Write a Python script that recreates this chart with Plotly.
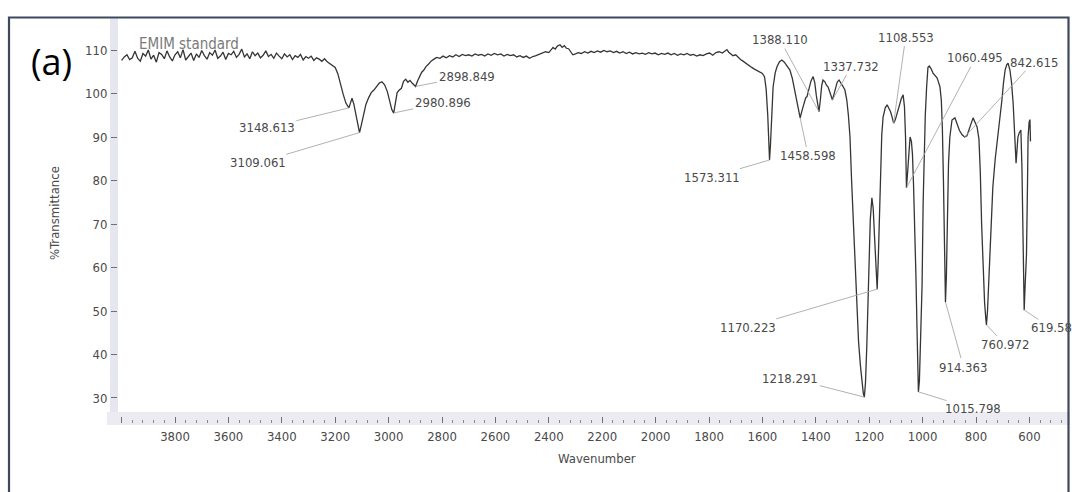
import numpy as np
import plotly.graph_objects as go

# ---------------- data ----------------
wavenumber = [
    4000, 3990, 3980, 3970, 3960, 3950, 3940, 3930, 3920, 3910, 3900, 3890, 3880, 3870, 3860, 3850,
    3840, 3830, 3820, 3810, 3800, 3790, 3780, 3770, 3760, 3750, 3740, 3730, 3720, 3710, 3700, 3690,
    3680, 3670, 3660, 3650, 3640, 3630, 3620, 3610, 3600, 3590, 3580, 3570, 3560, 3550, 3540, 3530,
    3520, 3510, 3500, 3490, 3480, 3470, 3460, 3450, 3440, 3430, 3420, 3410, 3400, 3390, 3380, 3370,
    3360, 3350, 3340, 3330, 3320, 3310, 3300, 3290, 3280, 3270, 3260, 3250, 3240, 3230, 3220, 3210,
    3200, 3190, 3180, 3170, 3160, 3152, 3148.6, 3143, 3137, 3130, 3122, 3115, 3109, 3102, 3095, 3085,
    3075, 3065, 3055, 3045, 3035, 3025, 3015, 3005, 2995, 2988, 2981, 2975, 2968, 2960, 2952, 2944,
    2936, 2928, 2920, 2912, 2905, 2899, 2892, 2884, 2876, 2868, 2860, 2850, 2840, 2830, 2820, 2808,
    2796, 2784, 2772, 2760, 2748, 2736, 2724, 2712, 2700, 2688, 2676, 2664, 2652, 2640, 2628, 2616,
    2604, 2592, 2580, 2568, 2556, 2544, 2532, 2520, 2508, 2496, 2484, 2472, 2460, 2448, 2436, 2424,
    2412, 2400, 2392, 2384, 2376, 2368, 2358, 2350, 2342, 2334, 2326, 2318, 2310, 2300, 2290, 2278,
    2266, 2254, 2242, 2230, 2218, 2206, 2194, 2182, 2170, 2158, 2146, 2134, 2122, 2110, 2098, 2086,
    2074, 2062, 2050, 2038, 2026, 2014, 2002, 1990, 1978, 1966, 1954, 1942, 1930, 1918, 1906, 1894,
    1882, 1870, 1858, 1846, 1834, 1822, 1810, 1798, 1786, 1774, 1762, 1750, 1740, 1733, 1726, 1718,
    1710, 1700, 1690, 1682, 1674, 1666, 1658, 1650, 1640, 1630, 1620, 1610, 1600, 1592, 1586, 1580,
    1576, 1573.3, 1570, 1566, 1560, 1552, 1545, 1536, 1527, 1518, 1508, 1497, 1488, 1478, 1470, 1463,
    1458.6, 1452, 1445, 1438, 1433, 1425, 1418, 1410, 1404, 1398, 1392, 1388.1, 1383, 1378, 1373, 1366,
    1360, 1354, 1348, 1342, 1337.7, 1332, 1326, 1320, 1313, 1306, 1298, 1291, 1284, 1278, 1272, 1266,
    1260, 1253, 1246, 1240, 1233, 1227, 1222, 1218.3, 1214, 1209, 1205, 1200, 1196, 1190, 1185, 1180,
    1175, 1170.2, 1166, 1162, 1158, 1153, 1148, 1140, 1133, 1126, 1120, 1114, 1108.6, 1102, 1095, 1088,
    1080, 1073, 1068, 1064, 1060.5, 1056, 1051, 1047, 1042, 1038, 1034, 1029, 1025, 1021, 1018, 1015.8,
    1012, 1007, 1002, 998, 994, 990, 985, 980, 975, 969, 961, 953, 946, 940, 935, 930,
    926, 922, 919, 916.5, 914.4, 911, 907, 903, 898, 890, 879, 870, 862, 852, 842.6, 834,
    825, 818, 811, 803, 796, 789, 784, 779, 774, 768, 763, 761, 757, 752, 748, 743,
    737, 728, 718, 710, 703, 697, 691, 685, 680, 673, 667, 661, 655, 650, 646, 643,
    638, 632, 628, 624, 621.5, 619.6, 616, 611, 607, 605, 601, 598, 596,
]

transmittance = [
    107.6, 108.4, 108.9, 107.8, 108.2, 109.7, 108.1, 107.4, 109.2, 108.6, 110.0, 107.9, 108.8, 107.2, 109.4, 109.0,
    108.0, 109.8, 108.4, 107.5, 108.9, 109.6, 108.2, 110.1, 107.7, 108.5, 109.3, 107.6, 109.1, 108.3, 109.9, 108.7,
    107.9, 109.4, 108.8, 110.0, 108.1, 108.6, 109.5, 107.8, 109.2, 108.9, 109.7, 108.3, 109.0, 110.2, 108.4, 109.1,
    108.0, 109.6, 108.7, 109.3, 108.2, 108.8, 109.8, 108.5, 109.0, 108.1, 109.3, 108.6, 108.0, 109.1, 108.4, 108.9,
    107.8, 108.7, 108.3, 109.0, 107.7, 108.5, 108.1, 108.6, 107.6, 108.2, 107.9, 107.4, 108.0, 107.3, 106.9, 106.6,
    106.0, 104.5, 102.0, 99.8, 97.8, 97.0, 96.7, 97.8, 98.9, 97.5, 95.0, 92.3, 91.0, 92.8, 95.0, 97.5,
    99.0, 100.2, 100.8, 101.6, 102.4, 102.7, 102.0, 100.5, 98.0, 96.3, 95.5, 97.5, 100.2, 100.8, 101.2, 102.8,
    103.3, 102.6, 103.0, 102.4, 101.9, 101.6, 102.8, 104.0, 104.9, 105.4, 106.2, 106.8, 107.5, 107.9, 108.3, 108.1,
    108.6, 108.2, 108.7, 108.4, 108.9, 108.5, 109.0, 108.7, 108.9, 108.6, 109.1, 108.8, 109.0, 108.6, 109.1, 108.8,
    109.2, 108.9, 109.1, 108.6, 109.0, 108.7, 108.9, 108.4, 108.7, 108.3, 108.6, 108.1, 108.5, 108.7, 109.0, 109.3,
    109.6, 109.4, 109.9, 110.6, 110.2, 110.9, 111.2, 110.6, 111.0, 110.4, 110.3, 109.6, 108.9, 109.1, 109.4, 109.2,
    109.6, 109.3, 109.7, 109.4, 109.8, 109.5, 109.9, 109.6, 109.8, 109.4, 109.7, 109.3, 109.6, 109.2, 109.5, 109.1,
    109.4, 109.1, 109.3, 109.0, 109.4, 109.1, 109.3, 108.9, 109.2, 109.0, 109.3, 108.9, 109.2, 108.8, 109.1, 108.9,
    109.2, 108.8, 109.0, 108.6, 108.9, 108.7, 109.1, 109.3, 108.8, 109.4, 109.6, 109.3, 109.9, 110.1, 109.5, 109.0,
    108.7, 108.9, 108.2, 107.8, 107.5, 107.1, 106.7, 106.4, 106.0, 105.6, 105.3, 104.9, 104.6, 103.8, 101.0, 95.0,
    88.0, 84.7, 88.0, 95.0, 101.5, 104.8, 106.2, 107.3, 107.7, 107.2, 106.3, 105.4, 103.5, 100.5, 97.5, 95.2,
    94.4, 96.0, 97.8, 99.0, 99.3, 101.0, 102.9, 103.9, 102.5, 99.5, 96.8, 95.8, 98.5, 101.8, 103.1, 102.7,
    101.9, 101.5, 100.4, 99.2, 98.5, 99.8, 101.5, 102.6, 103.1, 102.5, 101.6, 100.8, 98.5, 95.0, 90.0, 80.0,
    71.0, 60.0, 50.0, 43.0, 37.5, 33.5, 31.0, 30.2, 33.5, 42.0, 52.5, 63.0, 71.0, 76.0, 73.5, 67.0,
    61.0, 55.0, 62.0, 72.0, 83.0, 90.5, 94.6, 96.7, 97.4, 96.7, 95.8, 94.5, 93.2, 94.0, 95.6, 97.0,
    98.8, 99.7, 97.0, 90.0, 78.3, 82.0, 87.7, 90.0, 89.0, 86.0, 79.0, 70.0, 58.0, 46.0, 35.0, 31.4,
    34.0, 44.0, 56.0, 75.0, 88.0, 95.0, 101.5, 106.0, 106.3, 105.8, 104.7, 104.2, 103.6, 102.5, 101.5, 98.5,
    92.0, 80.0, 68.0, 57.0, 52.0, 58.0, 70.0, 84.0, 90.0, 93.9, 94.4, 93.0, 91.5, 90.5, 90.0, 90.3,
    92.0, 93.5, 94.4, 93.3, 92.3, 89.5, 82.0, 70.0, 60.0, 52.0, 48.0, 46.8, 50.0, 57.0, 63.0, 70.0,
    78.5, 85.0, 90.0, 94.5, 98.5, 102.5, 105.4, 106.6, 107.0, 105.4, 102.5, 97.8, 90.0, 84.0, 87.5, 90.0,
    91.0, 91.6, 83.0, 71.0, 58.0, 50.2, 56.0, 63.0, 80.0, 90.0, 93.5, 94.0, 89.0,
]

peak_labels = ["3148.613", "3109.061", "2980.896", "2898.849", "1573.311", "1458.598",
               "1388.110", "1337.732", "1108.553", "1060.495", "842.615", "1170.223",
               "1218.291", "1015.798", "914.363", "760.972", "619.58"]
peak_wn = [3148.613, 3109.061, 2980.896, 2898.849, 1573.311, 1458.598,
           1388.110, 1337.732, 1108.553, 1060.495, 842.615, 1170.223,
           1218.291, 1015.798, 914.363, 760.972, 619.58]

x_tick_values = [4000, 3800, 3600, 3400, 3200, 3000, 2800, 2600, 2400, 2200, 2000,
                 1800, 1600, 1400, 1200, 1000, 800, 600]
x_tick_text = ["", "3800", "3600", "3400", "3200", "3000", "2800", "2600", "2400", "2200", "2000",
               "1800", "1600", "1400", "1200", "1000", "800", "600"]
y_tick_values = [30, 40, 50, 60, 70, 80, 90, 100, 110]

# ---------------- layout helpers (pixel offsets of peak labels) ----------------
label_offsets = {
    "3148.613": (-82, 20), "3109.061": (-101, 30), "2980.896": (49, -10), "2898.849": (51, -10),
    "1573.311": (-58, 17), "1458.598": (8, 38), "1388.110": (-39, -72), "1337.732": (19, -34),
    "1108.553": (12, -86), "1060.495": (69, -130), "842.615": (69, -75), "1170.223": (-129, 38),
    "1218.291": (-74, -19), "1015.798": (55, 17), "914.363": (18, 65), "760.972": (19, 20),
    "619.58": (27, 18),
}

W, H = 1072, 492
L, R, T, B = 118, 4, 18, 69
PW, PH = W - L - R, H - T - B

FONT = "Liberation Sans Narrow, Arial Narrow, DejaVu Sans Condensed, sans-serif"
TXT = "#4a4a4a"


def px_x(px):
    return (px - L) / PW


def px_y(py):
    return (H - B - py) / PH


fig = go.Figure()
fig.add_trace(go.Scatter(x=wavenumber, y=transmittance, mode="lines",
                         line=dict(color="#353535", width=1.3), hoverinfo="skip",
                         showlegend=False))

wn_sorted = np.array(wavenumber[::-1], dtype=float)
tr_sorted = np.array(transmittance[::-1], dtype=float)

annotations = []
for lab, wn in zip(peak_labels, peak_wn):
    ty = float(np.interp(wn, wn_sorted, tr_sorted))
    ax, ay = label_offsets[lab]
    annotations.append(dict(x=wn, y=ty, xref="x", yref="y", text=lab, showarrow=True,
                            arrowhead=0, arrowwidth=0.9, arrowcolor="#a8a8a8", ax=ax, ay=ay,
                            standoff=0, startstandoff=1, borderpad=0,
                            font=dict(family=FONT, size=13, color=TXT)))

annotations += [
    dict(x=px_x(51), y=px_y(62), xref="paper", yref="paper", text="(a)", showarrow=False,
         xanchor="center", yanchor="middle",
         font=dict(family="Open Sans, Noto Sans, sans-serif", size=36, color="#000000")),
    dict(x=px_x(189), y=px_y(44), xref="paper", yref="paper", text="EMIM standard", showarrow=False,
         xanchor="center", yanchor="middle",
         font=dict(family=FONT, size=15, color="#7a7a7a")),
    dict(x=px_x(54), y=px_y(213), xref="paper", yref="paper", text="%Transmittance", showarrow=False,
         xanchor="center", yanchor="middle",
         textangle=-90, font=dict(family=FONT, size=13, color=TXT)),
    dict(x=px_x(597), y=px_y(458), xref="paper", yref="paper", text="Wavenumber", showarrow=False,
         xanchor="center", yanchor="middle",
         font=dict(family=FONT, size=13, color=TXT)),
]

shapes = [
    # light tick strip under the plot
    dict(type="rect", xref="paper", yref="paper", x0=px_x(107), x1=px_x(1070), y0=px_y(425),
         y1=px_y(412), fillcolor="#ebebf1", line=dict(width=0), layer="below"),
    # light vertical strip along the y axis
    dict(type="rect", xref="paper", yref="paper", x0=px_x(110), x1=px_x(118), y0=px_y(412),
         y1=px_y(18), fillcolor="#e6e6ef", line=dict(width=0), layer="below"),
    # outer frame
    dict(type="rect", xref="paper", yref="paper", x0=px_x(9), x1=px_x(1068.5), y0=px_y(520),
         y1=px_y(17.5), line=dict(color="#3e4a5c", width=2.2), fillcolor="rgba(0,0,0,0)"),
]

fig.update_layout(
    width=W, height=H, margin=dict(l=L, r=R, t=T, b=B),
    paper_bgcolor="white", plot_bgcolor="rgba(0,0,0,0)",
    xaxis=dict(range=[4013.5, 455.5], tickvals=x_tick_values, ticktext=x_tick_text,
               ticks="inside", ticklen=6, tickwidth=1, tickcolor="#707070",
               minor=dict(ticks="inside", ticklen=3, tickwidth=1, tickcolor="#8a8a8a", dtick=40, tick0=0),
               showgrid=False, zeroline=False, showline=False,
               tickfont=dict(family=FONT, size=13, color=TXT), ticklabelstandoff=4),
    yaxis=dict(range=[24.25, 117.36], tickvals=y_tick_values, ticks="outside", ticklen=6,
               tickwidth=1, tickcolor="#707070", showgrid=False, zeroline=False, showline=False,
               tickfont=dict(family=FONT, size=13, color=TXT), ticklabelstandoff=1),
    annotations=annotations, shapes=shapes,
)

fig.write_html("out.html")
